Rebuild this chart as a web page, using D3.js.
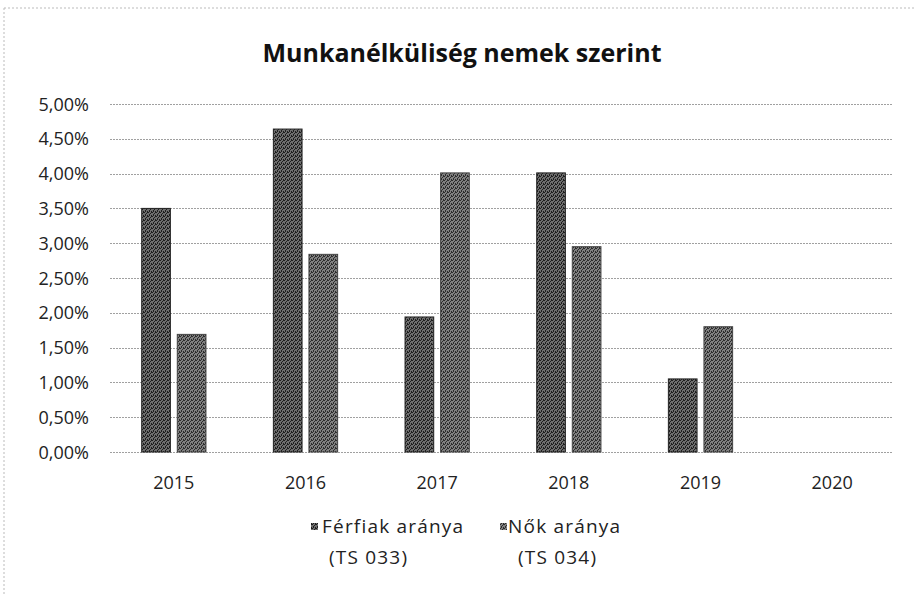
<!DOCTYPE html>
<html><head><meta charset="utf-8">
<script src="https://cdn.jsdelivr.net/npm/d3@7"></script>
<style>html,body{margin:0;padding:0;background:#fff}svg{display:block}</style>
</head><body>
<svg id="c" width="916" height="595"></svg>
<script>
const years = ["2015","2016","2017","2018","2019","2020"];
const ferfiak = [3.50, 4.64, 1.94, 4.01, 1.05, null];
const nok = [1.69, 2.84, 4.01, 2.95, 1.80, null];
const seriesNames = ["Férfiak aránya|(TS 033)", "Nők aránya|(TS 034)"];
const yTicks = [0,0.5,1,1.5,2,2.5,3,3.5,4,4.5,5];
const title = "Munkanélküliség nemek szerint";

const svg = d3.select("#c");
const font = "'Open Sans', 'Noto Sans', sans-serif";
const W=916,H=595;
const m = {left:108, right:18, top:104, bottom:143};
const x0 = d3.scaleBand().domain(years).range([m.left, W-m.right]).paddingInner(0).paddingOuter(0);
const keys = ["f","n"];
const x1 = d3.scaleBand().domain(keys).range([x0.bandwidth()*0.256, x0.bandwidth()*(1-0.256)]).paddingInner(0.194);
const y = d3.scaleLinear().domain([0,5]).range([H-m.bottom, m.top]);

// patterns
const defs = svg.append("defs");
function pat(id, dark, light){
  const p = defs.append("pattern").attr("id",id).attr("patternUnits","userSpaceOnUse").attr("width",4).attr("height",4);
  p.append("rect").attr("width",4).attr("height",4).attr("fill",light);
  [[0,0],[2,1],[1,2],[3,3],[3,0],[1,3]].forEach(([a,b])=>
    p.append("rect").attr("x",a).attr("y",b).attr("width",1).attr("height",1).attr("fill",dark));
}
pat("pf","#1e1e1e","#6e6e6e");
pat("pn","#2c2c2c","#808080");

// scan border
svg.append("line").attr("x1",4).attr("x2",4).attr("y1",8).attr("y2",H).attr("stroke","#bbb").attr("stroke-dasharray","2,2");
svg.append("line").attr("x1",4).attr("x2",W).attr("y1",8).attr("y2",8).attr("stroke","#bbb").attr("stroke-dasharray","2,2");

// title
svg.append("text").attr("x",462).attr("y",62).attr("text-anchor","middle")
  .attr("font-family",font).attr("font-weight","bold").attr("font-size",25).attr("fill","#111").text(title);

// grid
const loc = d3.formatLocale({decimal:",", thousands:" ", grouping:[3], currency:["",""]});
const fmt = v => loc.format(".2f")(v)+"%";
svg.append("g").selectAll("line").data(yTicks).join("line")
  .attr("x1",m.left+2).attr("x2",W-m.right-5).attr("y1",d=>Math.round(y(d))+0.5).attr("y2",d=>Math.round(y(d))+0.5)
  .attr("stroke","#a0a0a0").attr("stroke-width",1).attr("stroke-dasharray","2,1");
svg.append("g").selectAll("text").data(yTicks).join("text")
  .attr("x",89).attr("y",d=>y(d)+6.5).attr("text-anchor","end")
  .attr("font-family",font).attr("font-size",18).attr("fill","#222").text(fmt);

// bars
const rows = years.map((yr,i)=>({yr, f:ferfiak[i], n:nok[i]}));
const g = svg.append("g");
rows.forEach(r=>{
  keys.forEach(k=>{
    if(r[k]==null) return;
    g.append("rect").attr("x",x0(r.yr)+x1(k)).attr("width",x1.bandwidth())
      .attr("y",y(r[k])).attr("height",y(0)-y(r[k]))
      .attr("fill",k==="f"?"url(#pf)":"url(#pn)").attr("stroke",k==="f"?"#222":"#444").attr("stroke-width",1);
  });
});

// x labels
svg.append("g").selectAll("text").data(years).join("text")
  .attr("x",d=>x0(d)+x0.bandwidth()/2).attr("y",489).attr("text-anchor","middle")
  .attr("font-family",font).attr("font-size",18).attr("fill","#222").text(d=>d);

// legend
const leg = [{x:311, tx:322, tx2:329, id:"pf"},{x:500, tx:508, tx2:518, id:"pn"}];
leg.forEach((l,i)=>{
  const parts = seriesNames[i].split("|");
  svg.append("rect").attr("x",l.x).attr("y",523).attr("width",7).attr("height",7).attr("fill","url(#"+l.id+")");
  svg.append("text").attr("x",l.tx).attr("y",533).attr("font-family",font).attr("font-size",19).attr("letter-spacing",1.2).attr("fill","#222").text(parts[0]);
  svg.append("text").attr("x",l.tx2).attr("y",564).attr("font-family",font).attr("font-size",19).attr("letter-spacing",1.2).attr("fill","#222").text(parts[1]);
});
</script>
</body></html>
